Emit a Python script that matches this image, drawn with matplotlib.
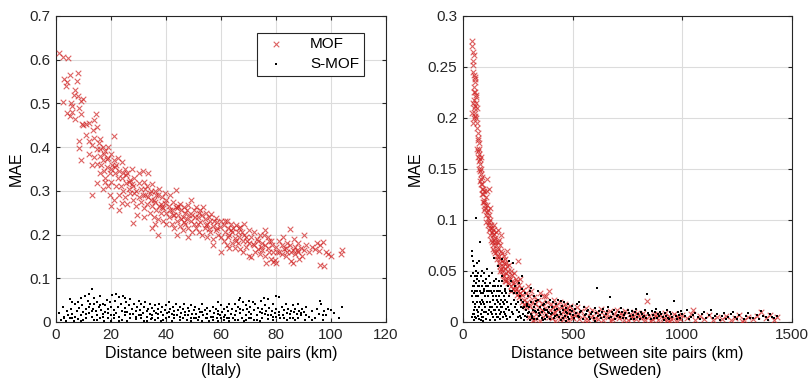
import matplotlib.pyplot as plt

plt.rcParams['font.family'] = ['Liberation Sans', 'DejaVu Sans']

# Italy, MOF (distance km, MAE)
italy_mof = [
    (1.0, 0.615), (2.5, 0.605), (4.5, 0.603), (2.5, 0.502), (3, 0.555), (3.5, 0.540), (4, 0.548),
    (5, 0.565), (4, 0.478), (5, 0.470), (5.5, 0.500), (6, 0.495), (6.5, 0.520), (7, 0.530),
    (6, 0.480), (7, 0.465), (7.5, 0.550), (8, 0.570), (8, 0.517), (8.5, 0.490), (9, 0.475),
    (9, 0.505), (9.5, 0.452), (10, 0.510), (10, 0.450), (8.5, 0.415), (8.5, 0.398), (9, 0.370),
    (11, 0.452), (11, 0.428), (12, 0.455), (12, 0.415), (13, 0.405),
    (13, 0.290), (13.5, 0.440), (14, 0.462), (14.5, 0.475), (15, 0.445), (14, 0.420), (15, 0.395),
    (15.5, 0.410), (16, 0.380), (16, 0.418), (16.5, 0.360), (17, 0.400), (17, 0.370), (17.5, 0.345),
    (18, 0.390), (18, 0.330), (18.5, 0.355), (19, 0.400), (19, 0.375), (19.5, 0.340), (20, 0.385),
    (20, 0.350), (20, 0.320), (19, 0.310), (18, 0.320), (16, 0.340), (15, 0.362), (14, 0.378),
    (12, 0.385), (13, 0.360), (15, 0.318), (17, 0.305), (19.5, 0.290), (21, 0.425), (20, 0.265),
    (21, 0.370), (21.5, 0.340), (22, 0.360), (22, 0.310), (22.5, 0.375), (23, 0.345), (23, 0.290),
    (24, 0.365), (24, 0.330), (24.5, 0.300), (25, 0.350), (25, 0.285), (25.5, 0.318), (26, 0.340),
    (26, 0.270), (27, 0.325), (27, 0.295), (27.5, 0.350), (28, 0.310), (28, 0.280), (28.5, 0.330),
    (29, 0.300), (29, 0.265), (30, 0.340), (30, 0.318), (30, 0.285), (21, 0.280), (23, 0.255),
    (23.5, 0.310), (26.5, 0.305), (24, 0.272), (29.5, 0.245), (28, 0.226),
    (31, 0.305), (31, 0.275), (31.5, 0.345), (32, 0.320), (32, 0.260), (32.5, 0.290), (33, 0.310),
    (33, 0.270), (33.5, 0.340), (34, 0.295), (34, 0.250), (34.5, 0.280), (35, 0.315), (35, 0.265),
    (35.5, 0.240), (36, 0.300), (36, 0.275), (36.5, 0.255), (37, 0.290), (37, 0.235), (37.5, 0.305),
    (38, 0.270), (38, 0.250), (38.5, 0.285), (39, 0.260), (39, 0.230), (39.5, 0.295), (40, 0.280),
    (40, 0.250), (40, 0.225), (35, 0.215), (36, 0.223), (37, 0.198), (32, 0.240),
    (41, 0.265), (41, 0.240), (41.5, 0.290), (42, 0.255), (42, 0.225), (42.5, 0.275), (43, 0.245),
    (43, 0.215), (43.5, 0.302), (44, 0.260), (44, 0.230), (44.5, 0.245), (45, 0.270), (45, 0.220),
    (45.5, 0.255), (46, 0.240), (46, 0.210), (46.5, 0.262), (47, 0.250), (47, 0.225), (47.5, 0.235),
    (48, 0.268), (48, 0.215), (48.5, 0.245), (49, 0.278), (49, 0.230), (49.5, 0.205), (50, 0.255),
    (50, 0.225), (44, 0.200), (48, 0.195),
    (51, 0.262), (51, 0.215), (51.5, 0.240), (52, 0.250), (52, 0.205), (52.5, 0.228), (53, 0.245),
    (53, 0.200), (53.5, 0.262), (54, 0.235), (54, 0.215), (54.5, 0.250), (55, 0.225), (55, 0.195),
    (55.5, 0.240), (56, 0.232), (56, 0.205), (56.5, 0.248), (57, 0.220), (57, 0.190), (58, 0.238),
    (58, 0.210), (58.5, 0.228), (59, 0.200), (59.5, 0.218), (60, 0.232), (60, 0.195), (60, 0.160),
    (57, 0.175),
    (61, 0.222), (61, 0.185), (61.5, 0.205), (62, 0.230), (62, 0.175), (62.5, 0.215), (63, 0.198),
    (63, 0.170), (63.5, 0.225), (64, 0.205), (64, 0.180), (64.5, 0.215), (65, 0.192), (65, 0.170),
    (65.5, 0.222), (66, 0.205), (66, 0.180), (66.5, 0.195), (67, 0.218), (67, 0.168), (67.5, 0.205),
    (68, 0.185), (68, 0.160), (68.5, 0.225), (69, 0.195), (69, 0.172), (70, 0.210), (70, 0.180),
    (70, 0.150), (71, 0.148),
    (71, 0.195), (72, 0.175), (72, 0.205), (72.5, 0.160), (73, 0.190), (73.5, 0.168), (74, 0.200),
    (74, 0.155), (75, 0.180), (75, 0.165), (75.5, 0.200), (76, 0.175), (76, 0.150), (77, 0.195),
    (77, 0.170), (77.5, 0.160), (78, 0.185), (78, 0.145), (78.5, 0.175), (79, 0.160), (79, 0.138),
    (79.5, 0.142), (80, 0.172), (80, 0.135), (76, 0.210), (76.5, 0.134),
    (81, 0.185), (81, 0.160), (82, 0.175), (82, 0.155), (82.5, 0.195), (83, 0.168), (83.5, 0.150),
    (84, 0.180), (84, 0.160), (85, 0.212), (85, 0.175), (85.5, 0.140), (86, 0.165), (86, 0.135),
    (86.5, 0.190), (87, 0.172), (87, 0.155), (88, 0.180), (88, 0.160), (88.5, 0.145), (89, 0.170),
    (89.5, 0.150), (90, 0.198), (90, 0.165), (91, 0.175), (92, 0.160), (93, 0.172), (94, 0.168),
    (95, 0.180), (95.5, 0.162), (96, 0.130), (96, 0.175), (97, 0.183), (97.5, 0.128), (98, 0.160),
    (99, 0.155), (100, 0.152), (103.5, 0.155), (104, 0.165),
    (16, 0.395), (17.5, 0.385), (18.5, 0.372), (20.5, 0.360), (21.5, 0.355), (22.5, 0.330),
    (24.5, 0.340), (25.5, 0.335), (26.5, 0.320), (27.5, 0.315), (28.5, 0.295), (31.5, 0.290),
    (32.5, 0.305), (33.5, 0.285), (34.5, 0.300), (35.5, 0.280), (36.5, 0.290), (37.5, 0.265),
    (38.5, 0.262), (39.5, 0.272), (41.5, 0.255), (42.5, 0.245), (43.5, 0.262), (44.5, 0.265),
    (45.5, 0.235), (46.5, 0.228), (47.5, 0.255), (49.5, 0.245), (50.5, 0.240), (51.5, 0.225),
    (52.5, 0.255), (54.5, 0.222), (55.5, 0.212), (57.5, 0.230), (58.5, 0.215), (61.5, 0.230),
    (62.5, 0.195), (63.5, 0.210), (65.5, 0.185), (66.5, 0.215), (68.5, 0.200), (69.5, 0.185),
    (71.5, 0.178), (73.5, 0.185), (74.5, 0.172), (77.5, 0.185), (80.5, 0.160), (83.5, 0.170),
    (85.5, 0.160), (87.5, 0.165),
]

# Italy, S-MOF
italy_smof = [
    (1, 0.020), (2, 0.005), (2.5, 0.035), (3, 0.012), (3.5, 0.002), (4, 0.025), (4.5, 0.015),
    (5, 0.052), (5, 0.008), (5.5, 0.030), (6, 0.018), (6.5, 0.003), (7, 0.040), (7, 0.012),
    (7.5, 0.025), (8, 0.045), (8, 0.006), (8.5, 0.032), (9, 0.015), (9.5, 0.038), (10, 0.022),
    (10, 0.004), (9, 0.055), (6, 0.045),
    (10.5, 0.060), (11, 0.030), (11, 0.010), (11.5, 0.048), (12, 0.065), (12, 0.020), (12.5, 0.040),
    (13, 0.076), (13, 0.012), (13.5, 0.030), (14, 0.055), (14, 0.005), (14.5, 0.025), (15, 0.045),
    (15, 0.015), (15.5, 0.035), (16, 0.060), (16, 0.008), (16.5, 0.028), (17, 0.042), (17, 0.018),
    (17.5, 0.003), (18, 0.038), (18, 0.022), (18.5, 0.050), (19, 0.030), (19, 0.010), (19.5, 0.045),
    (20, 0.035), (20, 0.015), (20, 0.002), (16, 0.038), (12, 0.035), (14, 0.040),
    (20.5, 0.062), (21, 0.028), (21, 0.008), (21.5, 0.048), (22, 0.065), (22, 0.020), (22.5, 0.035),
    (23, 0.058), (23, 0.012), (23.5, 0.040), (24, 0.025), (24, 0.005), (24.5, 0.060), (25, 0.032),
    (25, 0.015), (25.5, 0.045), (26, 0.022), (26, 0.003), (26.5, 0.038), (27, 0.052), (27, 0.010),
    (27.5, 0.030), (28, 0.018), (28.5, 0.042), (29, 0.025), (29, 0.006), (29.5, 0.035), (30, 0.048),
    (30, 0.015), (25, 0.055),
    (30.5, 0.028), (31, 0.040), (31, 0.008), (31.5, 0.020), (32, 0.035), (32, 0.003), (32.5, 0.045),
    (33, 0.025), (33, 0.012), (33.5, 0.030), (34, 0.018), (34, 0.042), (34.5, 0.006), (35, 0.032),
    (35, 0.015), (35.5, 0.025), (36, 0.038), (36, 0.004), (36.5, 0.020), (37, 0.030), (37, 0.010),
    (37.5, 0.042), (38, 0.022), (38, 0.002), (38.5, 0.035), (39, 0.015), (39.5, 0.028), (40, 0.038),
    (40, 0.008),
    (40.5, 0.020), (41, 0.045), (41, 0.012), (41.5, 0.030), (42, 0.018), (42, 0.002), (42.5, 0.035),
    (43, 0.025), (43, 0.008), (43.5, 0.040), (44, 0.015), (44.5, 0.028), (45, 0.035), (45, 0.004),
    (45.5, 0.020), (46, 0.030), (46, 0.010), (46.5, 0.042), (47, 0.022), (47.5, 0.005), (48, 0.032),
    (48, 0.015), (48.5, 0.025), (49, 0.038), (49, 0.003), (49.5, 0.018), (50, 0.028), (50, 0.010),
    (50.5, 0.035), (51, 0.018), (51.5, 0.005), (52, 0.030), (52, 0.012), (52.5, 0.022), (53, 0.040),
    (53, 0.003), (53.5, 0.015), (54, 0.028), (54.5, 0.008), (55, 0.032), (55, 0.018), (55.5, 0.002),
    (56, 0.025), (56.5, 0.012), (57, 0.035), (57, 0.005), (57.5, 0.020), (58, 0.030), (58.5, 0.010),
    (59, 0.025), (59, 0.002), (59.5, 0.015), (60, 0.038), (60, 0.008), (59, 0.045),
    (60.5, 0.022), (61, 0.030), (61, 0.005), (61.5, 0.015), (62, 0.035), (62, 0.010), (62.5, 0.025),
    (63, 0.040), (63, 0.003), (63.5, 0.018), (64, 0.030), (64.5, 0.008), (65, 0.042), (65, 0.015),
    (65.5, 0.025), (66, 0.035), (66, 0.004), (66.5, 0.050), (67, 0.055), (67, 0.020), (67.5, 0.010),
    (68, 0.045), (68, 0.028), (68.5, 0.002), (69, 0.038), (69, 0.015), (69.5, 0.030), (70, 0.048),
    (70, 0.008), (70, 0.022),
    (70.5, 0.035), (71, 0.018), (71.5, 0.045), (72, 0.028), (72, 0.005), (72.5, 0.040), (73, 0.015),
    (73.5, 0.032), (74, 0.022), (74, 0.002), (74.5, 0.048), (75, 0.030), (75, 0.010), (75.5, 0.055),
    (76, 0.038), (76, 0.018), (76.5, 0.025), (77, 0.052), (77, 0.006), (77.5, 0.032), (78, 0.015),
    (78.5, 0.025), (79, 0.040), (79, 0.005), (79.5, 0.020), (80, 0.060), (80, 0.012), (80, 0.030),
    (81, 0.058), (81, 0.022), (81.5, 0.008), (82, 0.035), (82.5, 0.015), (83, 0.028), (83.5, 0.040),
    (84, 0.020), (84, 0.005), (84.5, 0.030), (85, 0.018), (85.5, 0.025), (86, 0.038), (86, 0.010),
    (86.5, 0.022), (87, 0.030), (87.5, 0.018), (88, 0.040), (88, 0.008), (88.5, 0.025), (89, 0.015),
    (89.5, 0.030), (90, 0.022), (90.5, 0.005), (91, 0.035), (92, 0.012), (93, 0.025), (94, 0.008),
    (95, 0.030), (95.5, 0.018), (96, 0.048), (96.5, 0.040), (97, 0.005), (97.5, 0.025), (98, 0.015),
    (99, 0.030), (100, 0.028), (103, 0.008), (104, 0.035),
    (3, 0.008), (6, 0.010), (9, 0.003), (11, 0.018), (13, 0.025), (15, 0.005), (17, 0.012),
    (19, 0.020), (21, 0.015), (23, 0.003), (25, 0.022), (27, 0.018), (29, 0.012), (31, 0.015),
    (33, 0.002), (35, 0.008), (37, 0.018), (39, 0.005), (41, 0.022), (43, 0.015), (45, 0.012),
    (47, 0.015), (49, 0.008), (51, 0.010), (53, 0.022), (55, 0.010), (57, 0.012), (59, 0.018),
    (61, 0.012), (63, 0.010), (65, 0.005), (67, 0.030), (69, 0.005), (71, 0.010), (73, 0.005),
    (75, 0.020), (77, 0.015), (79, 0.012), (81, 0.015), (83, 0.008), (85, 0.010), (87, 0.005),
    (89, 0.020), (91, 0.015), (93, 0.005), (97, 0.015), (101, 0.020),
]

# Sweden, MOF
sweden_mof = [
    (40, 0.275), (42, 0.270), (45, 0.265), (44, 0.256), (47, 0.252), (45, 0.215), (48, 0.210),
    (42, 0.205), (50, 0.200), (52, 0.242), (54, 0.240), (55, 0.235), (56, 0.238), (58, 0.222),
    (53, 0.225), (51, 0.218), (57, 0.205), (60, 0.200), (62, 0.210), (59, 0.215), (56, 0.202),
    (49, 0.230), (61, 0.220), (46, 0.195),
    (65, 0.195), (68, 0.185), (70, 0.180), (66, 0.170), (72, 0.175), (74, 0.165), (68, 0.162),
    (76, 0.160), (78, 0.155), (72, 0.150), (80, 0.150), (82, 0.145), (84, 0.140), (78, 0.138),
    (86, 0.142), (88, 0.135), (85, 0.130), (90, 0.130), (92, 0.125), (95, 0.128), (98, 0.120),
    (94, 0.118), (100, 0.115), (75, 0.170), (80, 0.162), (70, 0.168),
    (102, 0.112), (105, 0.122), (108, 0.108), (110, 0.115), (112, 0.102), (115, 0.110), (118, 0.098),
    (120, 0.105), (122, 0.092), (125, 0.100), (128, 0.095), (130, 0.088), (132, 0.092), (135, 0.085),
    (138, 0.090), (140, 0.080), (142, 0.086), (145, 0.078), (148, 0.082), (150, 0.075), (110, 0.128),
    (118, 0.130), (108, 0.140), (125, 0.112), (140, 0.095), (135, 0.072),
    (152, 0.088), (155, 0.070), (158, 0.078), (160, 0.072), (162, 0.080), (165, 0.065), (168, 0.075),
    (170, 0.062), (172, 0.070), (175, 0.085), (178, 0.060), (180, 0.068), (182, 0.055), (185, 0.065),
    (188, 0.058), (190, 0.062), (192, 0.052), (195, 0.058), (198, 0.048), (200, 0.055), (205, 0.050),
    (210, 0.045), (212, 0.056), (215, 0.042), (218, 0.050), (222, 0.040), (225, 0.046), (230, 0.038),
    (232, 0.048), (235, 0.035), (240, 0.042), (242, 0.032), (245, 0.040), (250, 0.060), (252, 0.030),
    (255, 0.036), (260, 0.028), (262, 0.042), (265, 0.033), (270, 0.026), (160, 0.090), (200, 0.070),
    (190, 0.040), (220, 0.030), (170, 0.050),
    (275, 0.031), (280, 0.022), (285, 0.028), (290, 0.020), (295, 0.035), (300, 0.025), (305, 0.016),
    (310, 0.030), (315, 0.020), (320, 0.012), (325, 0.024), (330, 0.018), (335, 0.008), (340, 0.022),
    (345, 0.015), (350, 0.028), (355, 0.010), (360, 0.019), (365, 0.005), (370, 0.025), (375, 0.014),
    (380, 0.008), (385, 0.020), (390, 0.030), (395, 0.012), (400, 0.018), (405, 0.004), (410, 0.015),
    (415, 0.022), (420, 0.010), (425, 0.017), (430, 0.006), (435, 0.013), (440, 0.020), (445, 0.008),
    (450, 0.015), (455, 0.003), (460, 0.012), (465, 0.018), (470, 0.007), (475, 0.014), (480, 0.002),
    (485, 0.010), (490, 0.016), (495, 0.005), (500, 0.012), (320, 0.002), (300, 0.005), (350, 0.001),
    (420, 0.001), (380, 0.025),
    (510, 0.008), (520, 0.015), (530, 0.003), (540, 0.011), (550, 0.006), (560, 0.014), (570, 0.002),
    (580, 0.009), (590, 0.012), (600, 0.004), (610, 0.010), (620, 0.007), (630, 0.013), (640, 0.002),
    (650, 0.009), (660, 0.005), (670, 0.011), (680, 0.003), (690, 0.008), (700, 0.012), (710, 0.004),
    (720, 0.009), (730, 0.006), (740, 0.011), (750, 0.002), (760, 0.008), (770, 0.005), (780, 0.010),
    (790, 0.003), (800, 0.007), (810, 0.004), (820, 0.009), (830, 0.002), (840, 0.021), (850, 0.006),
    (860, 0.003), (870, 0.008), (880, 0.005), (890, 0.002), (900, 0.007), (910, 0.004), (920, 0.009),
    (930, 0.002), (940, 0.006), (950, 0.003), (960, 0.008), (970, 0.001), (980, 0.005), (990, 0.003),
    (1000, 0.007),
    (1020, 0.004), (1040, 0.008), (1060, 0.002), (1080, 0.006), (1100, 0.003), (1120, 0.007),
    (1140, 0.002), (1160, 0.005), (1180, 0.003), (1200, 0.006), (1220, 0.002), (1240, 0.004),
    (1260, 0.007), (1280, 0.002), (1300, 0.005), (1320, 0.003), (1340, 0.006), (1360, 0.010),
    (1380, 0.004), (1400, 0.007), (1420, 0.002), (1430, 0.005), (1050, 0.012), (1270, 0.001),
    (310, 0.008), (330, 0.003), (360, 0.012), (390, 0.005), (410, 0.009), (440, 0.003), (470, 0.011),
    (500, 0.004), (525, 0.008), (555, 0.002), (585, 0.005), (615, 0.003), (645, 0.007), (675, 0.001),
    (705, 0.006), (735, 0.002), (765, 0.004), (795, 0.009), (825, 0.005), (855, 0.001), (885, 0.008),
    (915, 0.003), (945, 0.001), (975, 0.006),
    (44, 0.245), (48, 0.262), (50, 0.225), (55, 0.212), (63, 0.190), (67, 0.178), (73, 0.158),
    (77, 0.148), (83, 0.135), (87, 0.125), (93, 0.118), (97, 0.110), (103, 0.105), (107, 0.098),
    (113, 0.095), (117, 0.090), (123, 0.085), (127, 0.080), (133, 0.078), (137, 0.075), (143, 0.070),
    (147, 0.068), (153, 0.065), (157, 0.062), (163, 0.058), (167, 0.055), (173, 0.052), (177, 0.050),
    (183, 0.046), (187, 0.045), (193, 0.042), (197, 0.040), (207, 0.038), (217, 0.035), (227, 0.032),
    (237, 0.030), (247, 0.026), (257, 0.024), (267, 0.020), (277, 0.018), (287, 0.015),
]

# Sweden, S-MOF
sweden_smof = [
    (38, 0.045), (40, 0.070), (42, 0.065), (44, 0.060), (40, 0.030), (42, 0.005), (45, 0.048),
    (45, 0.020), (48, 0.040), (48, 0.012), (50, 0.055), (50, 0.028), (52, 0.035), (52, 0.008),
    (55, 0.045), (55, 0.018), (58, 0.050), (58, 0.025), (60, 0.102), (60, 0.038), (60, 0.004),
    (62, 0.030), (62, 0.012), (65, 0.042), (65, 0.020), (68, 0.035), (68, 0.006), (70, 0.048),
    (70, 0.025), (72, 0.015), (75, 0.040), (75, 0.003), (78, 0.078), (78, 0.030), (80, 0.018),
    (82, 0.045), (82, 0.008), (85, 0.035), (85, 0.022), (88, 0.050), (88, 0.012), (90, 0.028),
    (92, 0.040), (92, 0.005), (95, 0.032), (95, 0.018), (98, 0.048), (98, 0.010), (100, 0.025),
    (100, 0.038), (55, 0.005), (65, 0.058), (72, 0.060), (50, 0.002), (46, 0.008), (80, 0.002),
    (90, 0.001),
    (102, 0.015), (105, 0.042), (105, 0.003), (108, 0.030), (110, 0.020), (110, 0.052), (112, 0.008),
    (115, 0.035), (115, 0.025), (118, 0.012), (120, 0.045), (120, 0.030), (122, 0.002), (125, 0.020),
    (125, 0.038), (128, 0.010), (130, 0.028), (130, 0.048), (132, 0.015), (135, 0.035), (135, 0.005),
    (138, 0.022), (140, 0.040), (140, 0.012), (142, 0.030), (145, 0.018), (145, 0.002), (148, 0.035),
    (150, 0.025), (150, 0.008), (152, 0.042), (155, 0.015), (155, 0.030), (158, 0.020), (160, 0.005),
    (160, 0.035), (162, 0.025), (165, 0.012), (165, 0.040), (168, 0.018), (170, 0.030), (170, 0.003),
    (172, 0.022), (175, 0.010), (175, 0.035), (178, 0.028), (180, 0.015), (180, 0.045), (182, 0.005),
    (185, 0.025), (188, 0.018), (190, 0.032), (190, 0.008), (192, 0.022), (195, 0.013), (198, 0.028),
    (200, 0.020), (200, 0.003), (140, 0.063), (160, 0.055), (210, 0.060), (230, 0.058), (180, 0.062),
    (205, 0.035), (208, 0.012), (212, 0.025), (215, 0.005), (218, 0.040), (220, 0.018), (225, 0.030),
    (228, 0.008), (232, 0.022), (235, 0.015), (238, 0.035), (240, 0.002), (245, 0.028), (248, 0.012),
    (252, 0.020), (255, 0.038), (258, 0.006), (262, 0.025), (265, 0.015), (268, 0.032), (272, 0.008),
    (275, 0.020), (278, 0.002), (282, 0.028), (285, 0.012), (290, 0.018), (292, 0.005), (295, 0.025),
    (300, 0.015), (305, 0.030), (308, 0.008), (312, 0.020), (318, 0.012), (322, 0.025), (325, 0.003),
    (330, 0.018), (335, 0.010), (340, 0.022), (345, 0.006), (350, 0.015), (355, 0.025), (360, 0.010),
    (365, 0.002), (370, 0.018), (375, 0.012), (380, 0.020), (385, 0.005), (390, 0.015), (395, 0.022),
    (400, 0.008), (310, 0.033), (340, 0.030), (270, 0.045),
    (405, 0.015), (410, 0.020), (415, 0.004), (420, 0.012), (425, 0.018), (430, 0.007), (435, 0.022),
    (440, 0.010), (445, 0.002), (450, 0.016), (455, 0.012), (460, 0.020), (465, 0.006), (470, 0.014),
    (475, 0.009), (480, 0.018), (485, 0.003), (490, 0.012), (495, 0.016), (500, 0.007), (510, 0.013),
    (520, 0.018), (530, 0.005), (540, 0.011), (550, 0.015), (560, 0.008), (570, 0.012), (580, 0.003),
    (590, 0.010), (600, 0.014), (610, 0.033), (615, 0.006), (620, 0.011), (630, 0.004), (640, 0.013),
    (650, 0.008), (660, 0.015), (670, 0.024), (675, 0.005), (680, 0.010), (690, 0.012), (700, 0.006),
    (445, 0.021), (530, 0.020), (470, 0.001), (600, 0.001),
    (710, 0.010), (720, 0.014), (730, 0.004), (740, 0.009), (750, 0.012), (760, 0.006), (770, 0.011),
    (780, 0.003), (790, 0.013), (800, 0.008), (810, 0.010), (820, 0.005), (830, 0.012), (840, 0.027),
    (850, 0.007), (860, 0.011), (870, 0.004), (880, 0.013), (890, 0.008), (900, 0.010), (910, 0.005),
    (920, 0.009), (930, 0.012), (940, 0.003), (950, 0.008), (960, 0.021), (970, 0.006), (980, 0.010),
    (990, 0.004), (1000, 0.008), (1020, 0.012), (1040, 0.005), (1060, 0.009), (1080, 0.003),
    (1100, 0.010), (1120, 0.007), (1140, 0.004), (1160, 0.008), (1180, 0.006), (1200, 0.003),
    (1220, 0.008), (1240, 0.005), (1260, 0.007), (1280, 0.003), (1300, 0.009), (1320, 0.004),
    (1340, 0.007), (1360, 0.011), (1380, 0.005), (1400, 0.008), (1420, 0.004), (1430, 0.006),
    (1130, 0.012), (1230, 0.010),
    (255, 0.010), (265, 0.004), (280, 0.015), (295, 0.009), (305, 0.002), (315, 0.006), (328, 0.011),
    (338, 0.003), (348, 0.009), (358, 0.004), (368, 0.013), (378, 0.007), (388, 0.010), (398, 0.003),
    (408, 0.009), (418, 0.006), (428, 0.013), (438, 0.005), (448, 0.008), (458, 0.004), (468, 0.010),
    (478, 0.005), (488, 0.008), (498, 0.011), (505, 0.004), (515, 0.009), (525, 0.006), (535, 0.010),
    (545, 0.003), (555, 0.007), (565, 0.011), (575, 0.005), (585, 0.008), (595, 0.004), (605, 0.009),
    (625, 0.007), (635, 0.010), (645, 0.005), (655, 0.011), (665, 0.004), (685, 0.008), (695, 0.003),
    (705, 0.007), (715, 0.005), (725, 0.010), (735, 0.007), (745, 0.004), (755, 0.009), (765, 0.003),
    (775, 0.007), (785, 0.010), (795, 0.005), (805, 0.003), (815, 0.008), (825, 0.006), (835, 0.004),
    (845, 0.009), (855, 0.003), (865, 0.007), (875, 0.010), (885, 0.004), (895, 0.006), (905, 0.008),
    (915, 0.002), (925, 0.006), (935, 0.004), (945, 0.010), (955, 0.005), (975, 0.003), (985, 0.007),
    (995, 0.011), (1010, 0.006), (1030, 0.003), (1050, 0.007), (1070, 0.005), (1090, 0.008),
    (1110, 0.004), (1150, 0.006), (1170, 0.002), (1190, 0.009), (1210, 0.005), (1250, 0.003),
    (1290, 0.006), (1310, 0.004), (1350, 0.003), (1370, 0.006), (1390, 0.002), (1410, 0.005),
    (43, 0.025), (47, 0.035), (53, 0.015), (57, 0.030), (63, 0.045), (67, 0.010), (73, 0.035),
    (77, 0.020), (83, 0.028), (87, 0.005), (93, 0.020), (97, 0.030), (103, 0.035), (107, 0.010),
    (113, 0.025), (117, 0.045), (123, 0.015), (127, 0.030), (133, 0.008), (137, 0.025), (143, 0.040),
    (147, 0.012), (153, 0.022), (157, 0.005), (163, 0.030), (167, 0.008), (173, 0.015), (177, 0.040),
    (183, 0.020), (187, 0.010), (193, 0.030), (197, 0.006), (203, 0.015), (213, 0.030), (223, 0.010),
    (233, 0.028), (243, 0.018), (253, 0.005), (263, 0.022), (273, 0.014), (283, 0.006), (293, 0.016),
    (303, 0.010), (313, 0.004), (323, 0.015), (333, 0.021), (343, 0.012), (353, 0.007), (363, 0.017),
    (373, 0.003), (383, 0.012), (393, 0.009),
]

countries = ['Italy', 'Sweden']
x_limits = [(0, 120), (0, 1500)]
y_limits = [(0, 0.7), (0, 0.3)]
x_ticks = [[0, 20, 40, 60, 80, 100, 120], [0, 500, 1000, 1500]]
y_ticks = [[0, 0.1, 0.2, 0.3, 0.4, 0.5, 0.6, 0.7], [0, 0.05, 0.1, 0.15, 0.2, 0.25, 0.3]]
y_labels = [['0', '0.1', '0.2', '0.3', '0.4', '0.5', '0.6', '0.7'],
            ['0', '0.05', '0.1', '0.15', '0.2', '0.25', '0.3']]

red = '#cf2020'

fig = plt.figure(figsize=(8.09, 3.87), dpi=100)
ax1 = fig.add_axes([0.0692, 0.168, 0.408, 0.791])
ax2 = fig.add_axes([0.5723, 0.168, 0.4067, 0.791])

data = [(italy_mof, italy_smof), (sweden_mof, sweden_smof)]
for i, ax in enumerate([ax1, ax2]):
    mof, smof = data[i]
    mx, my = zip(*mof)
    sx, sy = zip(*smof)
    ax.scatter(mx, my, marker='x', s=16, linewidths=0.8, color=red, alpha=0.7,
               label='MOF', zorder=3)
    ax.scatter(sx, sy, marker='s', s=2.8, linewidths=0, color='black',
               label='S-MOF', zorder=3)
    ax.set_xlim(x_limits[i])
    ax.set_ylim(y_limits[i])
    ax.set_xticks(x_ticks[i])
    ax.set_yticks(y_ticks[i])
    ax.set_yticklabels(y_labels[i])
    ax.grid(True, color='#dcdcdc', linewidth=0.8)
    ax.set_axisbelow(True)
    ax.tick_params(direction='in', length=3, labelsize=11, colors='#262626',
                   top=True, right=True, pad=4)
    for s in ax.spines.values():
        s.set_color('#262626')
        s.set_linewidth(0.8)
    ax.set_xlabel('Distance between site pairs (km)\n(%s)' % countries[i], fontsize=11.5,
                  linespacing=1.15, labelpad=3)
    ax.set_ylabel('MAE', fontsize=11.5, labelpad=4)

leg = ax1.legend(loc='upper right', bbox_to_anchor=(0.955, 0.97), fontsize=11,
                 fancybox=False, framealpha=1, edgecolor='#262626', markerscale=1.0,
                 handletextpad=1.2, borderpad=0.3, labelspacing=0.4)
leg.get_frame().set_linewidth(0.8)

plt.savefig('out.png', dpi=100)
